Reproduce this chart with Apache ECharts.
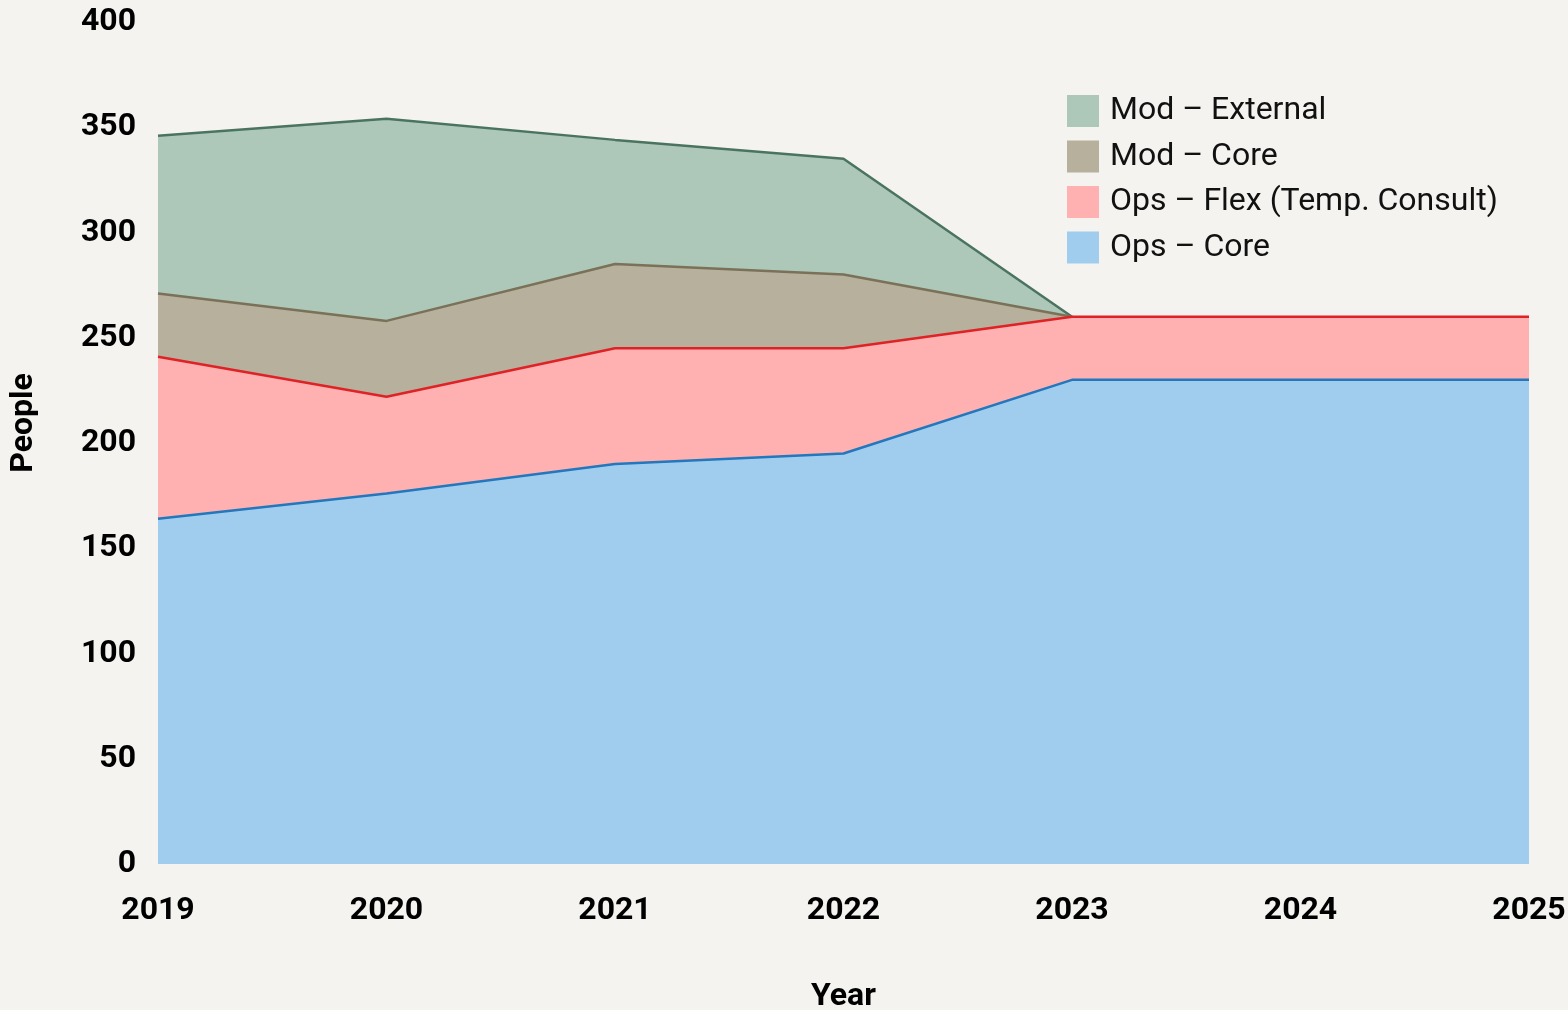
<!DOCTYPE html>
<html>
<head>
<meta charset="utf-8">
<script src="https://cdn.jsdelivr.net/npm/echarts@6/dist/echarts.min.js"></script>
<style>
html,body{margin:0;padding:0;background:#f4f3ef;overflow:hidden;width:1568px;height:1010px;}
#chart{width:1568px;height:1010px;display:block;}
</style>
</head>
<body>
<div id="chart"></div>
<script>
const years = ['2019','2020','2021','2022','2023','2024','2025'];
const opsCore = [164, 176, 190, 195, 230, 230, 230];
const opsFlex = [77, 46, 55, 50, 30, 30, 30];
const modCore = [30, 36, 40, 35, 0, '-', '-'];
const modExternal = [75, 96, 59, 55, 0, '-', '-'];
const yTicks = {min: 0, max: 400, interval: 50};

const seriesDefs = [
  {name: 'Ops – Core', data: opsCore, fill: '#a0cdee', line: '#2277bd', z: 6},
  {name: 'Ops – Flex (Temp. Consult)', data: opsFlex, fill: '#feb1b0', line: '#df2226', z: 5},
  {name: 'Mod – Core', data: modCore, fill: '#b6b09c', line: '#7a7158', z: 4},
  {name: 'Mod – External', data: modExternal, fill: '#adc8b8', line: '#4b7460', z: 3}
];

const chart = echarts.init(document.getElementById('chart'), null, {width: 1568, height: 1010});
const font = 'Roboto';
chart.setOption({
  backgroundColor: '#f4f3ef',
  animation: false,
  textStyle: {fontFamily: font},
  grid: {left: 158, right: 39, top: 22, bottom: 146, containLabel: false, outerBoundsMode: 'none'},
  legend: {
    orient: 'vertical',
    left: 1062,
    top: 87,
    icon: 'rect',
    itemWidth: 32,
    itemHeight: 32,
    itemGap: 7.5,
    textStyle: {fontFamily: font, fontSize: 32, lineHeight: 38, color: '#111', padding: [0, 0, 0, 6]},
    data: seriesDefs.slice().reverse().map(s => ({name: s.name, itemStyle: {color: s.fill, borderWidth: 0}}))
  },
  xAxis: {
    type: 'category',
    data: years,
    boundaryGap: false,
    axisLine: {show: false},
    axisTick: {show: false},
    splitLine: {show: false},
    axisLabel: {fontFamily: font, fontSize: 32, fontWeight: 'bold', color: '#000', margin: 31, interval: 0},
    name: 'Year',
    nameLocation: 'middle',
    nameGap: 117,
    nameTextStyle: {fontFamily: font, fontSize: 32, fontWeight: 'bold', color: '#000'}
  },
  yAxis: {
    type: 'value',
    min: yTicks.min,
    max: yTicks.max,
    interval: yTicks.interval,
    axisLine: {show: false},
    axisTick: {show: false},
    splitLine: {show: false},
    axisLabel: {fontFamily: font, fontSize: 32, fontWeight: 'bold', color: '#000', margin: 22},
    name: 'People',
    nameLocation: 'middle',
    nameGap: 118,
    nameTextStyle: {fontFamily: font, fontSize: 32, fontWeight: 'bold', color: '#000', padding: [0, 0, 0, 40]}
  },
  series: seriesDefs.map(s => ({
    name: s.name,
    type: 'line',
    stack: 'total',
    data: s.data,
    z: s.z,
    symbol: 'none',
    showSymbol: false,
    lineStyle: {color: s.line, width: 2.5},
    itemStyle: {color: s.line},
    areaStyle: {color: s.fill, opacity: 1},
    emphasis: {disabled: true}
  }))
});
</script>
</body>
</html>
